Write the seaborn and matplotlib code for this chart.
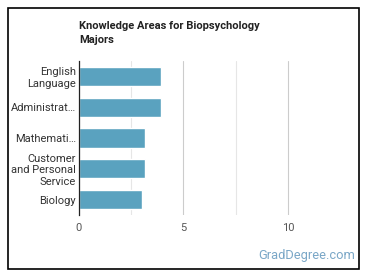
import numpy as np
import pandas as pd
import seaborn as sns
import matplotlib.pyplot as plt
from matplotlib.patches import Rectangle

areas = ["English\nLanguage", "Administrat…", "Mathemati…",
         "Customer\nand Personal\nService", "Biology"]
scores = [3.92, 3.92, 3.18, 3.18, 3.0]

df = pd.DataFrame({"area": areas, "score": scores})

sns.set_style("white")
plt.rcParams["font.family"] = ["Roboto", "DejaVu Sans"]

fig = plt.figure(figsize=(3.7, 2.78), dpi=100)
ax = fig.add_axes([79 / 370, 1 - 215 / 278, 261 / 370, 154 / 278])

sns.barplot(data=df, x="score", y="area", color="#5aa2bf", width=0.62,
            saturation=1, ax=ax, zorder=3)

ax.set_xlim(0, 12.5)
ax.set_ylim(4.5, -0.5)
ax.set_xticks([0, 5, 10])
ax.set_xticks([2.5, 7.5], minor=True)
ax.grid(True, axis="x", which="major", color="#cccccc", linewidth=0.8, zorder=0)
ax.grid(True, axis="x", which="minor", color="#e6e6e6", linewidth=0.8, zorder=0)
ax.set(xlabel="", ylabel="")
ax.tick_params(axis="both", which="both", length=0, labelsize=8, colors="#333333")
ax.tick_params(axis="x", pad=6, colors="#555555")
ax.tick_params(axis="y", pad=2)
for lbl in ax.get_yticklabels():
    lbl.set_linespacing(1.15)
for side in ["top", "right", "bottom"]:
    ax.spines[side].set_visible(False)
ax.spines["left"].set_color("#222222")
ax.spines["left"].set_linewidth(0.9)
ax.spines["left"].set_zorder(4)

fig.text(79 / 370, 1 - 21 / 278, "Knowledge Areas for Biopsychology\nMajors",
         fontsize=8, fontweight="bold", color="#222222", va="top", ha="left",
         linespacing=1.55)
fig.text(355 / 370, 1 - 255 / 278, "GradDegree.com", fontsize=9.3,
         color="#7aa7c7", ha="right", va="center")

fig.patches.append(Rectangle((8 / 370, 1 - 269 / 278), 351 / 370, 261 / 278,
                             transform=fig.transFigure, fill=False,
                             edgecolor="black", linewidth=1.2))

fig.savefig("out.png", dpi=100)
